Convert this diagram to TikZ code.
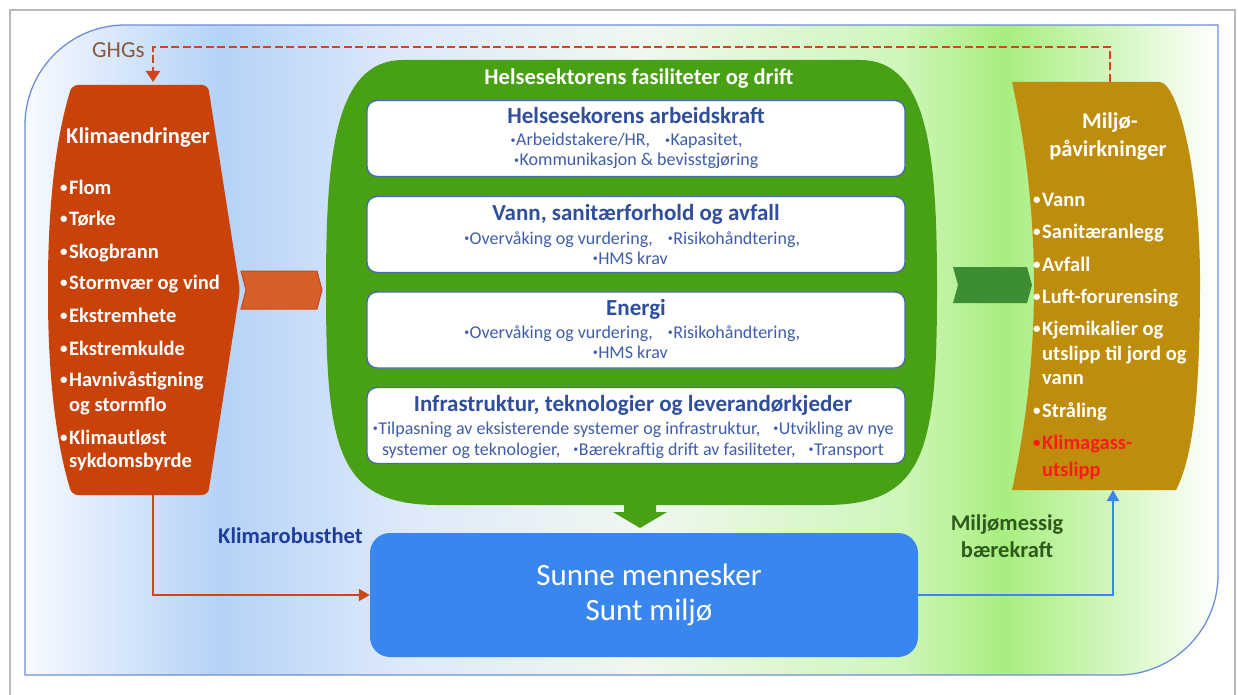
\documentclass[tikz,border=0pt]{standalone}
\usepackage{fontspec}
\setmainfont{Carlito}
\usetikzlibrary{arrows.meta}
\definecolor{orangeL}{HTML}{C8420A}
\definecolor{orangeC}{HTML}{D65E28}
\definecolor{orangeCd}{HTML}{C94818}
\definecolor{greenM}{HTML}{48A014}
\definecolor{greenC}{HTML}{3D8D35}
\definecolor{goldR}{HTML}{BF8D0C}
\definecolor{blueB}{HTML}{3A86EF}
\definecolor{titleblue}{HTML}{2F4E9C}
\definecolor{itemblue}{HTML}{3E5DAA}
\definecolor{boxborder}{HTML}{4C6BA6}
\definecolor{robblue}{HTML}{1E3D98}
\definecolor{miljgreen}{HTML}{2F5A1C}
\definecolor{ghgbrown}{HTML}{8A5A3E}
\definecolor{dashred}{HTML}{D4441C}
\definecolor{klimred}{HTML}{FF1A1A}
\definecolor{frameblue}{HTML}{6E8EDB}
\definecolor{bgA}{HTML}{F7FAFF}
\definecolor{bgB}{HTML}{B5D2F7}
\definecolor{bgC}{HTML}{DDE9FB}
\definecolor{bgD}{HTML}{F0F7F0}
\definecolor{bgE}{HTML}{CFF6BA}
\definecolor{bgF}{HTML}{A8EE7F}
\definecolor{bgG}{HTML}{FFFFFF}
\newcommand{\lbul}{\makebox[9pt][l]{\raisebox{1.5pt}{\fontsize{15}{15}\selectfont•}}}
\newcommand{\lnob}{\makebox[9pt][l]{}}
\newcommand{\sdot}{\makebox[6pt][c]{\raisebox{2.6pt}{\fontsize{10}{10}\selectfont•}}}
\begin{document}
\begin{tikzpicture}[x=1pt,y=-1pt,
  ltxt/.style={text=white,font=\fontsize{20.5}{24}\selectfont\bfseries,anchor=base west,inner sep=0pt},
  htxt/.style={text=white,font=\fontsize{22.5}{26}\selectfont\bfseries,anchor=base,inner sep=0pt},
  btitle/.style={text=titleblue,font=\fontsize{23}{26}\selectfont\bfseries,anchor=base,inner sep=0pt},
  bitem/.style={text=itemblue,font=\fontsize{18}{21}\selectfont,anchor=base,inner sep=0pt},
  wbox/.style={draw=boxborder,line width=1.4pt,fill=white,rounded corners=10pt,minimum width=538pt,minimum height=76pt,inner sep=0pt},
  lbl/.style={font=\fontsize{22.5}{26}\selectfont\bfseries,inner sep=0pt},
  tip/.style={-{Triangle[length=11pt,width=12pt]}},
  oline/.style={tip,draw=orangeCd,line width=2pt},
  bline/.style={tip,draw=blueB,line width=2pt},
  dline/.style={-{Triangle[length=11pt,width=14pt]},draw=dashred,line width=2.5pt,dash pattern=on 8pt off 3.5pt}
]
\useasboundingbox (0,0) rectangle (1238,695);
\fill[white] (0,0) rectangle (1238,695);
\draw[gray!55,line width=1.5pt] (10,700) -- (10,10) -- (1235,10) -- (1235,700);
% background
\begin{scope}
\clip (25,675) -- (25,125) .. controls (25,70) and (70,25) .. (125,25) -- (1218,25) -- (1218,575) .. controls (1218,630) and (1173,675) .. (1118,675) -- cycle;
\shade[left color=bgA,right color=bgB] (24,24) rectangle (220,676);
\shade[left color=bgB,right color=bgC] (220,24) rectangle (400,676);
\shade[left color=bgC,right color=bgD] (400,24) rectangle (640,676);
\shade[left color=bgD,right color=bgE] (640,24) rectangle (900,676);
\shade[left color=bgE,right color=bgF] (900,24) rectangle (1005,676);
\shade[left color=bgF,right color=bgG] (1005,24) rectangle (1219,676);
\end{scope}
\draw[frameblue,line width=1.3pt] (25,675) -- (25,125) .. controls (25,70) and (70,25) .. (125,25) -- (1218,25) -- (1218,575) .. controls (1218,630) and (1173,675) .. (1118,675) -- cycle;
% left shape
\fill[orangeL,rounded corners=6pt] (140,85) -- (208,85) -- (240,290) -- (208,495) -- (72,495) .. controls (55,440) and (48,370) .. (48,290) .. controls (48,210) and (55,140) .. (72,85) -- cycle;
\coordinate (klimaTop) at (153,85);
\coordinate (klimaBot) at (153,495);
% right shape
\fill[goldR] (1012,82) -- (1160,82) .. controls (1178,84) and (1200,170) .. (1200,280) .. controls (1200,390) and (1194,455) .. (1176,490) -- (1012,490) .. controls (1025,430) and (1034,360) .. (1034,286) .. controls (1034,220) and (1027,150) .. (1012,82) -- cycle;
\coordinate (miljTop) at (1110,82);
\coordinate (miljBot) at (1113,490);
% green shape
\fill[greenM] (403,60) -- (860,60) .. controls (930,60) and (937,160) .. (937,290) .. controls (937,450) and (925,505) .. (825,505) -- (438,505) .. controls (338,505) and (326,450) .. (326,290) .. controls (326,160) and (333,60) .. (403,60) -- cycle;
\fill[greenM] (624,500) -- (656,500) -- (656,512) -- (667,512) -- (640,528) -- (613,512) -- (624,512) -- cycle;
% chevrons
\filldraw[fill=orangeC,draw=orangeCd,line width=1pt] (241,271) -- (317,271) -- (322,290) -- (317,309) -- (241,309) -- (246,290) -- cycle;
\fill[greenC] (953,267) -- (1027,267) -- (1032,285) -- (1027,303) -- (953,303) -- (958,285) -- cycle;
% green title
\node[htxt,font=\fontsize{22.5}{26}\selectfont\bfseries] (gtitle) at (639,85) {Helsesektorens fasiliteter og drift};
% boxes
\node[wbox] (b1) at (636,138.5) {};
\node[wbox] (b2) at (636,234.5) {};
\node[wbox] (b3) at (636,330) {};
\node[wbox] (b4) at (636,425.5) {};
\node[btitle] (b1t) at (636,124) {Helsesekorens arbeidskraft};
\node[bitem,anchor=base west] (b1a) at (510,146) {\sdot Arbeidstakere/HR,\hspace{0.8em}\sdot Kapasitet,};
\node[bitem] (b1b) at (636,166) {\sdot Kommunikasjon \& bevisstgjøring};
\node[btitle] (b2t) at (636,220) {Vann, sanitærforhold og avfall};
\node[bitem] (b2a) at (632,244) {\sdot Overvåking og vurdering,\hspace{0.8em}\sdot Risikohåndtering,};
\node[bitem] (b2b) at (630,264) {\sdot HMS krav};
\node[btitle] (b3t) at (636,315) {Energi};
\node[bitem] (b3a) at (632,338) {\sdot Overvåking og vurdering,\hspace{0.8em}\sdot Risikohåndtering,};
\node[bitem] (b3b) at (630,358) {\sdot HMS krav};
\node[btitle] (b4t) at (633,411) {Infrastruktur, teknologier og leverandørkjeder};
\node[bitem] (b4a) at (633,434) {\sdot Tilpasning av eksisterende systemer og infrastruktur,\hspace{0.7em}\sdot Utvikling av nye};
\node[bitem] (b4b) at (633,455) {systemer og teknologier,\hspace{0.7em}\sdot Bærekraftig drift av fasiliteter,\hspace{0.7em}\sdot Transport};
% left texts
\node[htxt,anchor=base west] (klima) at (66,144) {Klimaendringer};
\node[ltxt] (k1) at (60,194) {\lbul Flom};
\node[ltxt] (k2) at (60,225) {\lbul Tørke};
\node[ltxt] (k3) at (60,258) {\lbul Skogbrann};
\node[ltxt] (k4) at (60,289) {\lbul Stormvær og vind};
\node[ltxt] (k5) at (60,322) {\lbul Ekstremhete};
\node[ltxt] (k6) at (60,355) {\lbul Ekstremkulde};
\node[ltxt] (k7) at (60,386) {\lbul Havnivåstigning};
\node[ltxt] (k7b) at (60,411) {\lnob og stormflo};
\node[ltxt] (k8) at (60,444) {\lbul Klimautløst};
\node[ltxt] (k8b) at (60,467) {\lnob sykdomsbyrde};
% right texts
\node[htxt] (milj1) at (1110,129) {Miljø-};
\node[htxt] (milj2) at (1108,157) {påvirkninger};
\node[ltxt] (m1) at (1033,206) {\lbul Vann};
\node[ltxt] (m2) at (1033,238) {\lbul Sanitæranlegg};
\node[ltxt] (m3) at (1033,271) {\lbul Avfall};
\node[ltxt] (m4) at (1033,303) {\lbul Luft-forurensing};
\node[ltxt] (m5) at (1033,335) {\lbul Kjemikalier og};
\node[ltxt] (m5b) at (1033,360) {\lnob utslipp til jord og};
\node[ltxt] (m5c) at (1033,384) {\lnob vann};
\node[ltxt] (m6) at (1033,417) {\lbul Stråling};
\node[ltxt,text=klimred] (m7) at (1033,449) {\lbul Klimagass-};
\node[ltxt,text=klimred] (m7b) at (1033,476) {\lnob utslipp};
% bottom box
\node[fill=blueB,rounded corners=20pt,minimum width=548pt,minimum height=124pt] (blue) at (644,595) {};
\node[text=white,align=center,font=\fontsize{31}{35}\selectfont,inner sep=0pt] (bluetxt) at (649,595) {Sunne mennesker\\Sunt miljø};
% labels
\node[lbl,text=robblue,anchor=base west] (rob) at (218,543) {Klimarobusthet};
\node[lbl,text=miljgreen,anchor=base] (mb1) at (1007,530) {Miljømessig};
\node[lbl,text=miljgreen,anchor=base] (mb2) at (1007,557) {bærekraft};
\node[text=ghgbrown,font=\fontsize{23}{26}\selectfont,anchor=base west,inner sep=0pt] (ghg) at (92,58) {GHGs};
% connectors
\draw[dline,shorten >=3pt] (miljTop) -- ++(0,-35) -| (klimaTop);
\draw[oline] (klimaBot) |- (blue.west);
\draw[bline] (blue.east) -| (miljBot);
\end{tikzpicture}
\end{document}
